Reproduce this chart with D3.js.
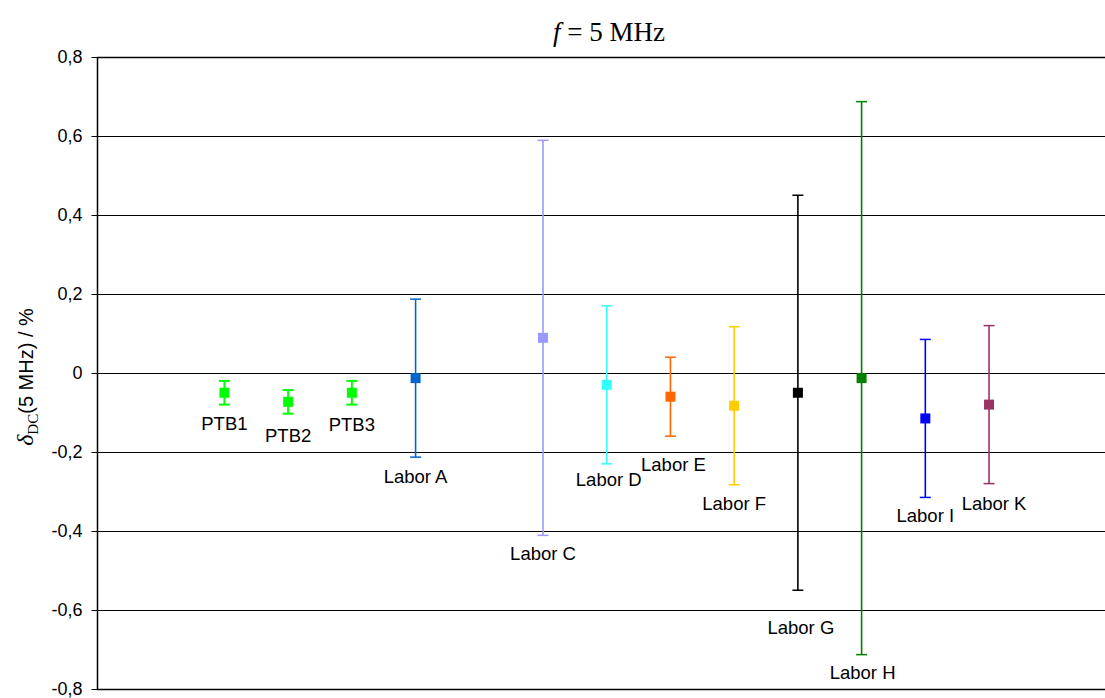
<!DOCTYPE html>
<html><head><meta charset="utf-8">
<script src="https://cdn.jsdelivr.net/npm/d3@7/dist/d3.min.js"></script>
<style>body{margin:0;background:#fff}svg{display:block}</style>
</head><body>
<script>
// ---- data ----
const categories = ["PTB1","PTB2","PTB3","Labor A","Labor C","Labor D","Labor E","Labor F","Labor G","Labor H","Labor I","Labor K"];
const slots      = [2,3,4,5,7,8,9,10,11,12,13,14];
const values     = [-0.05,-0.073,-0.05,-0.013,0.089,-0.03,-0.06,-0.083,-0.05,-0.013,-0.115,-0.08];
const errors     = [0.03,0.03,0.03,0.2,0.5,0.2,0.1,0.2,0.5,0.7,0.2,0.2];
const colors     = ["#00ff00","#00ff00","#00ff00","#0066cc","#9999ff","#33ffff","#ff6600","#ffcc00","#000000","#008000","#0000ff","#993366"];
const yTicks     = [-0.8,-0.6,-0.4,-0.2,0,0.2,0.4,0.6,0.8];
// label nudges (layout only)
const labelDx    = [0,0,0,0,0,2,3,0,3,1,0,5];
const labelDy    = [19,22,20,19,18,16,28,19,37,18,18,20];

const W=1105,H=698;
const svg=d3.select("body").append("svg").attr("width",W).attr("height",H);
const x=d3.scaleLinear().domain([0,15.82]).range([97,1105]);
const y=d3.scaleLinear().domain([-0.8,0.8]).range([689,57]);

// grid
svg.append("g").selectAll("line").data(yTicks).join("line")
  .attr("x1",97).attr("x2",W).attr("y1",d=>Math.round(y(d))+0.5).attr("y2",d=>Math.round(y(d))+0.5)
  .attr("stroke","#000").attr("stroke-width",d=>(d===0.8||d===-0.8)?1.6:1);

// axis
const fmt=d=>d===0?"0":d3.format(".1f")(d).replace(".",",").replace("−","-");
const ax=svg.append("g").attr("transform","translate(97.5,0)")
  .call(d3.axisLeft(y).tickValues(yTicks).tickSize(6).tickFormat(fmt));
ax.select(".domain").attr("stroke","#000").attr("stroke-width",1.5).attr("d","M0,57V689");
ax.selectAll(".tick line").attr("stroke","#000");
ax.selectAll(".tick text").attr("font-family","Arial, 'Liberation Sans', sans-serif").attr("font-size",18).attr("fill","#000").attr("x",-15);

const idx=d3.range(categories.length);
const g=svg.append("g");
// error bars
g.selectAll("line.v").data(idx).join("line").attr("class","v")
  .attr("x1",i=>x(slots[i])).attr("x2",i=>x(slots[i]))
  .attr("y1",i=>y(values[i]+errors[i])).attr("y2",i=>y(values[i]-errors[i]))
  .attr("stroke",i=>colors[i]).attr("stroke-width",i=>i<3?2:1.6);
[1,-1].forEach(s=>{
  g.selectAll("line.c"+(s>0?"t":"b")).data(idx).join("line").attr("class","c"+(s>0?"t":"b"))
   .attr("x1",i=>x(slots[i])-5.5).attr("x2",i=>x(slots[i])+5.5)
   .attr("y1",i=>y(values[i]+s*errors[i])).attr("y2",i=>y(values[i]+s*errors[i]))
   .attr("stroke",i=>colors[i]).attr("stroke-width",i=>i<3?2:1.5);
});
// markers
g.selectAll("rect").data(idx).join("rect")
  .attr("x",i=>x(slots[i])-5).attr("y",i=>y(values[i])-5).attr("width",10).attr("height",10)
  .attr("fill",i=>colors[i]);
// labels
g.selectAll("text").data(idx).join("text")
  .attr("x",i=>x(slots[i])+labelDx[i]).attr("y",i=>y(values[i]-errors[i])+labelDy[i])
  .attr("text-anchor","middle").attr("dominant-baseline","central")
  .attr("font-family","Arial, 'Liberation Sans', sans-serif").attr("font-size",18.5).attr("fill","#000")
  .text(i=>categories[i]);

// title
const t=svg.append("text").attr("x",609).attr("y",41).attr("text-anchor","middle")
  .attr("font-family","'Times New Roman','Liberation Serif',serif").attr("font-size",27);
t.append("tspan").attr("font-style","italic").text("f");
t.append("tspan").text(" = 5 MHz");

// y label
const yl=svg.append("text").attr("transform","translate(33,377) rotate(-90)").attr("text-anchor","middle")
  .attr("font-family","Arial, 'Liberation Sans', sans-serif").attr("font-size",20);
yl.append("tspan").attr("font-family","'Times New Roman','Liberation Serif',serif").attr("font-style","italic").attr("font-size",24).text("δ");
yl.append("tspan").attr("font-family","'Times New Roman','Liberation Serif',serif").attr("font-size",15).attr("dy",5).text("DC");
yl.append("tspan").attr("dy",-5).text("(5 MHz) / %");
</script>
</body></html>
